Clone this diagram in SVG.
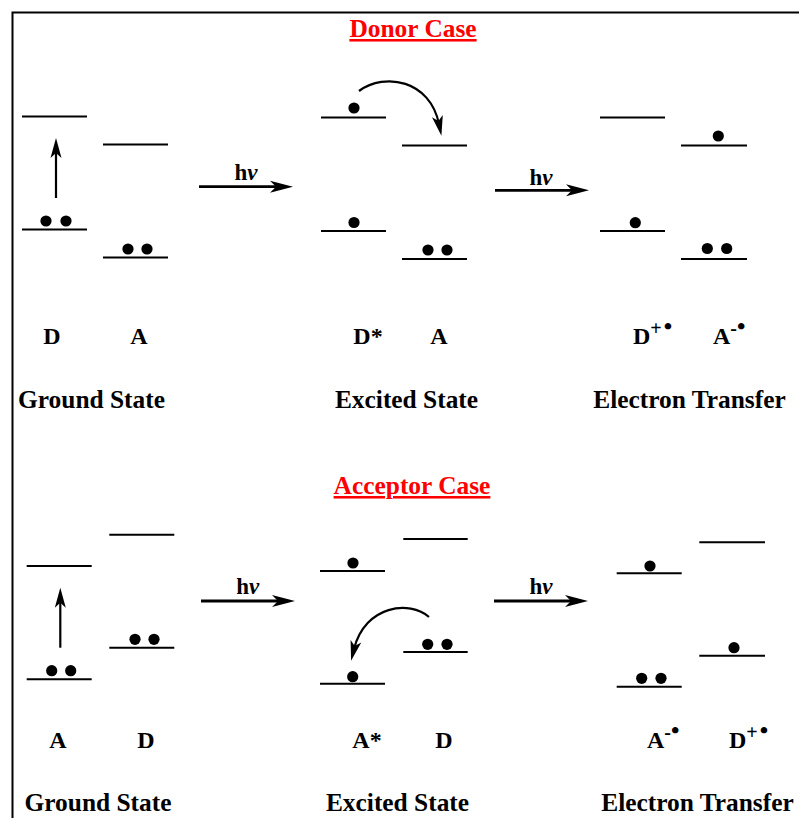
<svg xmlns="http://www.w3.org/2000/svg" width="799" height="818" viewBox="0 0 799 818">
<defs>
<style>
.lv{stroke:#000;stroke-width:2;fill:none}
.e{fill:#000}
.ar{stroke:#000;stroke-width:2.2;fill:none;marker-end:url(#ah)}
.arh{stroke:#000;stroke-width:2.8;fill:none;marker-end:url(#ah2)}
.t{font-family:"Liberation Serif","Times New Roman",serif;font-weight:bold;font-size:25.4px;fill:#000;text-anchor:middle}
.lb{font-family:"Liberation Serif","Times New Roman",serif;font-weight:bold;font-size:24px;fill:#000}
.ttl{font-family:"Liberation Serif","Times New Roman",serif;font-weight:bold;font-size:25.4px;fill:#FF0000;text-anchor:middle;text-decoration:underline}
.hv{font-family:"Liberation Serif","Times New Roman",serif;font-weight:bold;font-size:23px;fill:#000;text-anchor:middle}
.sp{font-size:20px}
.bu{font-size:24px}
</style>
<marker id="ah" markerUnits="userSpaceOnUse" viewBox="-9 -6 22 12" refX="0" refY="0" markerWidth="22" markerHeight="12" orient="auto">
<path d="M12,0 L-8,-5.5 L-3,0 L-8,5.5 Z" fill="#000"/>
</marker>
<marker id="ah2" markerUnits="userSpaceOnUse" viewBox="-11 -7 25 14" refX="0" refY="0" markerWidth="25" markerHeight="14" orient="auto">
<path d="M13,0 L-10,-6 L-4,0 L-10,6 Z" fill="#000"/>
</marker>
</defs>
<rect width="799" height="818" fill="#fff"/>
<path d="M12.5,900 V12.5 H900" stroke="#000" stroke-width="2" fill="none"/>

<g id="title-donor"><text class="ttl" x="413" y="37">Donor Case</text></g>
<g id="title-acceptor"><text class="ttl" x="412" y="494">Acceptor Case</text></g>

<!-- Donor case: ground state -->
<g id="d-ground-D">
<line class="lv" x1="22" y1="116.5" x2="87" y2="116.5"/>
<line class="lv" x1="22" y1="229.5" x2="87" y2="229.5"/>
<circle class="e" cx="46" cy="221" r="5.6"/><circle class="e" cx="66" cy="221" r="5.6"/>
<text class="lb" x="52" y="344" text-anchor="middle">D</text>
</g>
<g id="d-ground-A">
<line class="lv" x1="103" y1="144.5" x2="168" y2="144.5"/>
<line class="lv" x1="103" y1="257.5" x2="168" y2="257.5"/>
<circle class="e" cx="128" cy="249" r="5.6"/><circle class="e" cx="147" cy="249" r="5.6"/>
<text class="lb" x="139" y="344" text-anchor="middle">A</text>
</g>
<g id="d-ground-label"><text class="t" x="91.5" y="408">Ground State</text></g>

<!-- Donor case: excited state -->
<g id="d-excited-D">
<line class="lv" x1="321" y1="117.5" x2="386" y2="117.5"/>
<line class="lv" x1="321" y1="231" x2="386" y2="231"/>
<circle class="e" cx="354" cy="108" r="5.6"/>
<circle class="e" cx="354" cy="222.5" r="5.6"/>
<text class="lb" x="368" y="344" text-anchor="middle">D*</text>
</g>
<g id="d-excited-A">
<line class="lv" x1="402" y1="145.5" x2="467" y2="145.5"/>
<line class="lv" x1="402" y1="259" x2="467" y2="259"/>
<circle class="e" cx="428" cy="250" r="5.6"/><circle class="e" cx="447" cy="250" r="5.6"/>
<text class="lb" x="439" y="344" text-anchor="middle">A</text>
</g>
<g id="d-excited-label"><text class="t" x="406.5" y="408">Excited State</text></g>

<!-- Donor case: electron transfer -->
<g id="d-et-D">
<line class="lv" x1="600" y1="117.5" x2="665" y2="117.5"/>
<line class="lv" x1="600" y1="231" x2="665" y2="231"/>
<circle class="e" cx="635.3" cy="222.7" r="5.6"/>
<text class="lb" x="633" y="344">D<tspan class="sp" dy="-9">+</tspan><tspan class="bu" dx="2" dy="-1">•</tspan></text>
</g>
<g id="d-et-A">
<line class="lv" x1="681" y1="145.5" x2="747" y2="145.5"/>
<line class="lv" x1="681" y1="259" x2="747" y2="259"/>
<circle class="e" cx="718.3" cy="136" r="5.6"/>
<circle class="e" cx="707.3" cy="248.5" r="5.6"/><circle class="e" cx="726.7" cy="248.5" r="5.6"/>
<text class="lb" x="713" y="344">A<tspan class="sp" dy="-9">-</tspan><tspan class="bu" dy="-1">•</tspan></text>
</g>
<g id="d-et-label"><text class="t" x="689.5" y="408">Electron Transfer</text></g>

<!-- Acceptor case: ground state -->
<g id="a-ground-A">
<line class="lv" x1="26.7" y1="566" x2="91.7" y2="566"/>
<line class="lv" x1="26.7" y1="679.3" x2="91.7" y2="679.3"/>
<circle class="e" cx="51.7" cy="670.7" r="5.6"/><circle class="e" cx="70.7" cy="670.7" r="5.6"/>
<text class="lb" x="58" y="748" text-anchor="middle">A</text>
</g>
<g id="a-ground-D">
<line class="lv" x1="109.3" y1="534.7" x2="174.3" y2="534.7"/>
<line class="lv" x1="109.3" y1="647.7" x2="174.3" y2="647.7"/>
<circle class="e" cx="135" cy="639.3" r="5.6"/><circle class="e" cx="154" cy="639.3" r="5.6"/>
<text class="lb" x="146" y="748" text-anchor="middle">D</text>
</g>
<g id="a-ground-label"><text class="t" x="98" y="811">Ground State</text></g>

<!-- Acceptor case: excited state -->
<g id="a-excited-A">
<line class="lv" x1="320" y1="571" x2="385" y2="571"/>
<line class="lv" x1="320" y1="683.7" x2="385" y2="683.7"/>
<circle class="e" cx="353" cy="563" r="5.6"/>
<circle class="e" cx="352.7" cy="676.7" r="5.6"/>
<text class="lb" x="367" y="748" text-anchor="middle">A*</text>
</g>
<g id="a-excited-D">
<line class="lv" x1="403.3" y1="539" x2="467.7" y2="539"/>
<line class="lv" x1="403.3" y1="652" x2="467.7" y2="652"/>
<circle class="e" cx="427.7" cy="644.3" r="5.6"/><circle class="e" cx="447" cy="644.3" r="5.6"/>
<text class="lb" x="444" y="748" text-anchor="middle">D</text>
</g>
<g id="a-excited-label"><text class="t" x="397.5" y="811">Excited State</text></g>

<!-- Acceptor case: electron transfer -->
<g id="a-et-A">
<line class="lv" x1="616.7" y1="573.3" x2="681.7" y2="573.3"/>
<line class="lv" x1="616.7" y1="686.7" x2="681.7" y2="686.7"/>
<circle class="e" cx="650" cy="566" r="5.6"/>
<circle class="e" cx="641.7" cy="678.3" r="5.6"/><circle class="e" cx="661" cy="678.3" r="5.6"/>
<text class="lb" x="647" y="748">A<tspan class="sp" dy="-9">-</tspan><tspan class="bu" dy="-1">•</tspan></text>
</g>
<g id="a-et-D">
<line class="lv" x1="699.3" y1="542.3" x2="765" y2="542.3"/>
<line class="lv" x1="699.3" y1="655.7" x2="765" y2="655.7"/>
<circle class="e" cx="734" cy="647.7" r="5.6"/>
<text class="lb" x="729" y="748">D<tspan class="sp" dy="-9">+</tspan><tspan class="bu" dx="2" dy="-1">•</tspan></text>
</g>
<g id="a-et-label"><text class="t" x="697.5" y="811">Electron Transfer</text></g>

<!-- Connectors -->
<g id="connectors">
<line class="ar" x1="56" y1="198" x2="56" y2="150"/>
<line class="arh" x1="199" y1="186.7" x2="280" y2="186.7"/>
<text class="hv" x="246" y="180">h<tspan font-style="italic">ν</tspan></text>
<path class="ar" d="M359,91 C385,72 430,80 439,124"/>
<line class="arh" x1="495" y1="190.3" x2="576" y2="190.3"/>
<text class="hv" x="541" y="185">h<tspan font-style="italic">ν</tspan></text>

<line class="ar" x1="60.3" y1="647.7" x2="60.3" y2="599.7"/>
<line class="arh" x1="201" y1="601" x2="282" y2="601"/>
<text class="hv" x="247.7" y="594">h<tspan font-style="italic">ν</tspan></text>
<path class="ar" d="M429,617 C410,600 365,605 354,649"/>
<line class="arh" x1="494" y1="601" x2="575" y2="601"/>
<text class="hv" x="541" y="594">h<tspan font-style="italic">ν</tspan></text>
</g>
</svg>
